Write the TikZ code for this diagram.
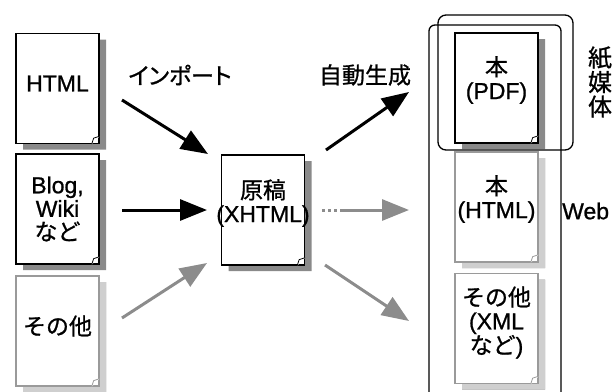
\documentclass[tikz,border=0pt]{standalone}
\usepackage{fontspec}
\setmainfont[FakeBold=0.9]{Liberation Sans}
\newfontfamily\jp[FakeBold=0.9]{Noto Sans CJK JP}
\newfontfamily\jpkana[FakeBold=0.9,RawFeature=+palt]{Noto Sans CJK JP}
\usetikzlibrary{arrows.meta,shapes.misc,shadows,calc}

\definecolor{darkshade}{HTML}{8A8A8A}
\definecolor{lightshade}{HTML}{CFCFCF}
\definecolor{faintline}{HTML}{9A9A9A}
\definecolor{arrowgray}{HTML}{8C8C8C}

\tikzset{
  doc/.style={chamfered rectangle, chamfered rectangle corners=south east,
    chamfered rectangle xsep=8pt, chamfered rectangle ysep=8pt,
    minimum width=83pt, minimum height=110pt, inner sep=0pt,
    fill=white, draw=black, line width=1.3pt,
    drop shadow={shadow xshift=7pt, shadow yshift=-6pt, fill=darkshade, opacity=1}},
  faintdoc/.style={doc, draw=faintline,
    drop shadow={shadow xshift=7pt, shadow yshift=-6pt, fill=lightshade, opacity=1}},
  txt/.style={align=center, inner sep=0pt, font=\fontsize{23}{23.5}\selectfont},
  conn/.style={line width=3pt, -{Triangle[length=27pt,width=21pt]}},
  faintconn/.style={conn, draw=arrowgray, color=arrowgray},
  frame/.style={draw=black, line width=1.3pt},
}

\begin{document}
\begin{tikzpicture}[x=1pt,y=-1pt]
\useasboundingbox (0,0) rectangle (613,391);

% sources
\node[doc] (html) at (57.5,88.5) {};
\node[doc] (blog) at (57.5,209) {};
\node[faintdoc] (other) at (57.5,331) {};
% manuscript
\node[doc] (src) at (263,210) {};
% outputs
\node[doc] (pdf) at (496.5,88) {};
\node[faintdoc] (web) at (496.5,207) {};
\node[faintdoc] (xml) at (496.5,328.5) {};

% folded corners
\foreach \n in {html,blog,src,pdf}
  \draw[line width=0.8pt, fill=white]
    ($(\n.east|-\n.south)+(-8pt,0pt)$) -- ($(\n.east|-\n.south)+(-6pt,6pt)$)
    -- ($(\n.east|-\n.south)+(0pt,8pt)$);
\foreach \n in {other,web,xml}
  \draw[line width=0.8pt, draw=faintline, fill=white]
    ($(\n.east|-\n.south)+(-8pt,0pt)$) -- ($(\n.east|-\n.south)+(-6pt,6pt)$)
    -- ($(\n.east|-\n.south)+(0pt,8pt)$);

% document texts
\node[txt] (html-t) at ([yshift=5pt]html.center) {HTML};
\node[txt] (blog-t) at (blog.center) {Blog,\\Wiki\\{\jp など}};
\node[txt] (other-t) at ([yshift=5pt]other.center) {{\jp その他}};
\node[txt] (src-t) at ([yshift=7pt]src.center) {{\jp 原稿}\\(XHTML)};
\node[txt] (pdf-t) at ([yshift=8pt]pdf.center) {{\jp 本}\\(PDF)};
\node[txt] (web-t) at ([yshift=8pt]web.center) {{\jp 本}\\(HTML)};
\node[txt] (xml-t) at ([yshift=6pt]xml.center) {{\jp その他}\\(XML\\{\jp など})};

% frames around the outputs
\node[frame, rounded corners=8pt, minimum width=135pt, minimum height=135pt,
  inner sep=0pt] (paper) at (505.5,82.5) {};
\coordinate (colbl) at (429,400);
\coordinate (coltl) at (429,25);
\coordinate (coltr) at (561,25);
\coordinate (colbr) at (561,400);
\draw[frame, rounded corners=6pt] (colbl) -- (coltl) -- (coltr) -- (colbr);

% side labels
\node[txt] (import) at (180,75) {\jpkana インポート};
\node[txt] (gen) at (365,75) {\jp 自動生成};
\node[txt, font=\fontsize{24}{24.5}\selectfont] (papermedia) at (600,82) {\jp 紙\\\jp 媒\\\jp 体};
\node[txt, anchor=west] (weblabel) at (562,211) {Web};

% arrow ends
\coordinate (a1s) at (122,100);  \coordinate (a1e) at (208,154);
\coordinate (a2s) at (122,210);  \coordinate (a2e) at (207,210);
\coordinate (a3s) at (122,318);  \coordinate (a3e) at (207,263);
\coordinate (b1s) at (326,150);  \coordinate (b1e) at (409,92);
\coordinate (b2s) at (322,210);  \coordinate (b2m) at (343,210);
\coordinate (b2e) at (409,210);
\coordinate (b3s) at (325,265);  \coordinate (b3e) at (409,321);

\draw[conn] (a1s) -- (a1e);
\draw[conn] (a2s) -- (a2e);
\draw[faintconn] (a3s) -- (a3e);
\draw[conn] (b1s) -- (b1e);
\draw[arrowgray, line width=3pt, dash pattern=on 3pt off 3pt] (b2s) -- (b2m);
\draw[faintconn] (b2m) -- (b2e);
\draw[faintconn] (b3s) -- (b3e);
\end{tikzpicture}
\end{document}
